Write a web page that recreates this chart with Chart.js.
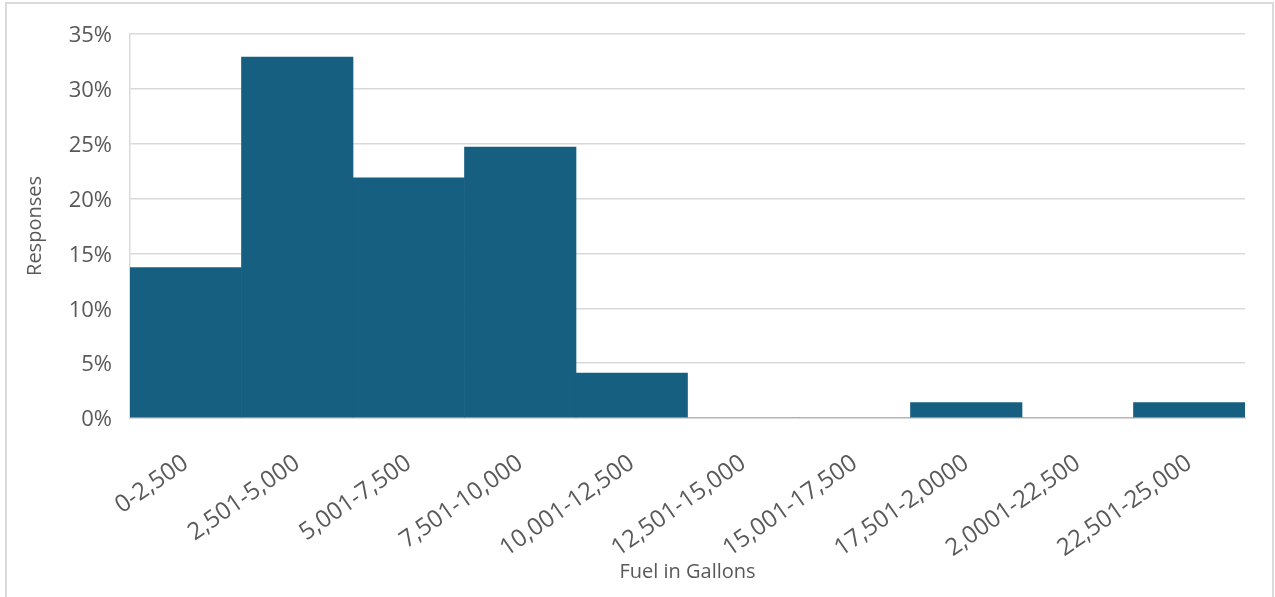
<!DOCTYPE html>
<html>
<head>
<meta charset="utf-8">
<script src="https://cdn.jsdelivr.net/npm/chart.js@4.4.0/dist/chart.umd.min.js"></script>
<style>
  html, body { margin: 0; padding: 0; background: #ffffff; overflow: hidden; }
  #wrap { position: relative; width: 1275px; height: 597px; }
  #frame { position: absolute; left: 5px; top: 2px; width: 1269px; height: 700px; box-sizing: border-box; border: 2px solid #dadada; pointer-events: none; }
  canvas { position: absolute; left: 0; top: 0; }
</style>
</head>
<body>
<div id="wrap">
  <canvas id="c" width="1275" height="597"></canvas>
  <div id="frame"></div>
</div>
<script>
const categories = ["0-2,500", "2,501-5,000", "5,001-7,500", "7,501-10,000", "10,001-12,500", "12,501-15,000", "15,001-17,500", "17,501-2,0000", "2,0001-22,500", "22,501-25,000"];
const responsesPct = [13.7, 32.9, 21.9, 24.7, 4.1, 0, 0, 1.4, 0, 1.4];
const yTickMax = 35;
const yTickStep = 5;
const xTitle = "Fuel in Gallons";
const yTitle = "Responses";

const textColor = "#595959";
const gridColor = "#d9d9d9";
const barColor = "#175f81";
const family = "'Open Sans', sans-serif";

new Chart(document.getElementById('c'), {
  type: 'bar',
  data: {
    labels: categories,
    datasets: [{
      data: responsesPct,
      backgroundColor: barColor,
      borderWidth: 0,
      barPercentage: 1.0,
      categoryPercentage: 1.0
    }]
  },
  options: {
    responsive: false,
    devicePixelRatio: 1,
    animation: false,
    layout: { padding: { left: 0, right: 30, top: 34, bottom: 0 } },
    plugins: { legend: { display: false }, tooltip: { enabled: false } },
    scales: {
      x: {
        grid: { display: false, drawTicks: false },
        border: { display: true, color: gridColor, width: 2 },
        ticks: {
          color: textColor,
          font: { family: family, size: 24 },
          minRotation: 35,
          maxRotation: 35,
          padding: 31,
          autoSkip: false
        },
        title: {
          display: true,
          text: xTitle,
          color: textColor,
          font: { family: family, size: 20 },
          padding: { top: 0, bottom: 13 }
        },
        afterFit: (s) => { s.height = 179; }
      },
      y: {
        min: 0,
        max: yTickMax,
        grid: { color: gridColor, lineWidth: 1.5, drawTicks: false },
        border: { display: true, color: gridColor, width: 1.5 },
        ticks: {
          stepSize: yTickStep,
          color: textColor,
          font: { family: family, size: 22 },
          padding: 18,
          labelOffset: 2,
          callback: (v) => v + '%'
        },
        title: {
          display: true,
          text: yTitle,
          color: textColor,
          font: { family: family, size: 20 },
          padding: { top: 23, bottom: 0 }
        },
        afterFit: (s) => { s.width = 130; }
      }
    }
  }
});
</script>
</body>
</html>
